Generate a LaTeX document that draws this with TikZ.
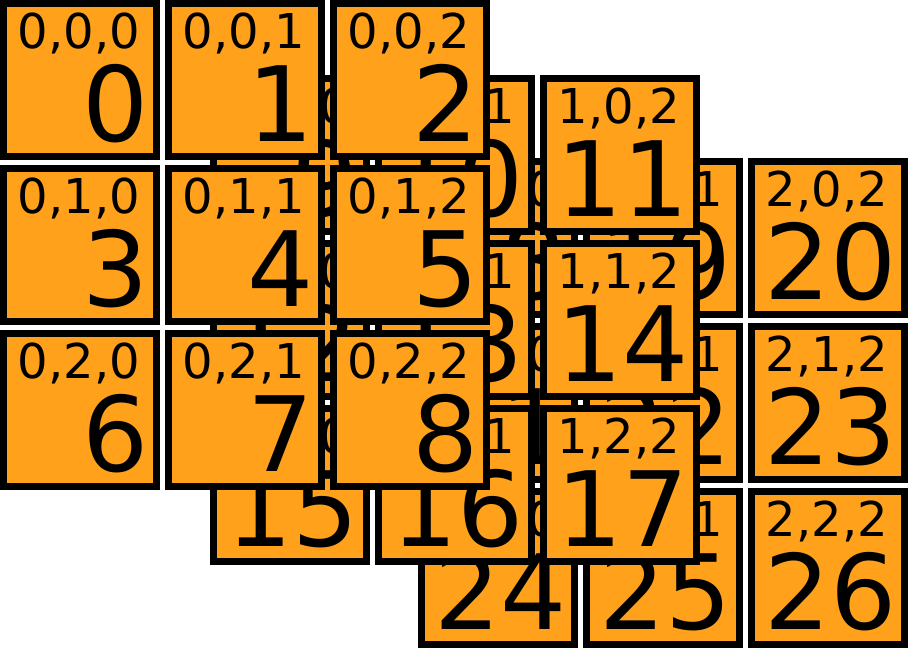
\documentclass[tikz,border=0pt]{standalone}
\usepackage{fontspec}
\setmainfont{DejaVu Sans}
\usepackage{xcolor}
\usetikzlibrary{positioning}
\definecolor{cellfill}{RGB}{255,161,26}
\tikzset{
	cell/.style={draw=black, fill=cellfill, line width=7pt, minimum width=153pt, minimum height=153pt, inner sep=0pt, outer sep=0pt, anchor=north west},
	idx/.style={anchor=base, inner sep=0pt, font=\fontsize{48}{48}\selectfont},
	num/.style={anchor=base east, inner sep=0pt, text depth=0pt, font=\fontsize{104}{104}\selectfont}
}

\begin{document}
\begin{tikzpicture}[x=1pt, y=-1pt]
				\useasboundingbox (0,0) rectangle (909,648);
				
				\foreach \a/\dx/\dy in {2/418/158, 1/210/75, 0/0/0} {
					\foreach \b in {0,1,2} {
						\foreach \c in {0,1,2} {
							\pgfmathtruncatemacro{\n}{9*\a+3*\b+\c}
							\node[cell] (cell\n) at (\dx+165*\c+3.5, \dy+165*\b+3.5) {};
							\node[idx] (idx\n) at (\dx+165*\c+79, \dy+165*\b+48) {\a,\b,\c};
							\node[num] (num\n) at (\dx+165*\c+149, \dy+165*\b+141) {\n};
						}
					}
				}
			\end{tikzpicture}
\end{document}
